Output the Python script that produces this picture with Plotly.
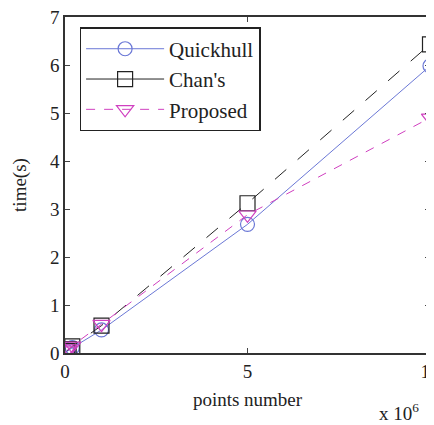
import plotly.graph_objects as go

points = [0.05e6, 0.1e6, 0.2e6, 1e6, 5e6, 10e6]
quickhull = [0.03, 0.06, 0.11, 0.48, 2.68, 5.98]
chans = [0.04, 0.08, 0.14, 0.57, 3.12, 6.43]
proposed = [0.05, 0.09, 0.15, 0.6, 2.88, 4.9]

font = "Liberation Serif"
blue, black, magenta = "#6b78d6", "#222222", "#d040c0"
fig = go.Figure()
fig.add_trace(go.Scatter(x=points, y=quickhull, name="Quickhull", mode="lines+markers",
                         line=dict(color=blue, width=1),
                         marker=dict(symbol="circle-open", size=14, color=blue, line=dict(width=1.2))))
fig.add_trace(go.Scatter(x=points, y=chans, name="Chan's", mode="lines+markers", showlegend=False,
                         line=dict(color=black, width=1, dash="longdash"),
                         marker=dict(symbol="square-open", size=15, color=black, line=dict(width=1.2))))
# legend entry for Chan's (solid sample as in the reference legend)
fig.add_trace(go.Scatter(x=[None], y=[None], name="Chan's", mode="lines+markers",
                         line=dict(color=black, width=1),
                         marker=dict(symbol="square-open", size=15, color=black, line=dict(width=1.2))))
fig.add_trace(go.Scatter(x=points, y=proposed, name="Proposed", mode="lines+markers",
                         line=dict(color=magenta, width=1, dash="dash"),
                         marker=dict(symbol="triangle-down-open", size=15, color=magenta, line=dict(width=1.2))))

# page body adds an 8px margin, so the figure is sized to fill the rest of the window
fig.update_layout(
    width=426, height=417,
    margin=dict(l=57, r=4, t=9, b=72, autoexpand=False),
    paper_bgcolor="white", plot_bgcolor="white",
    font=dict(family=font, size=19, color="#222222"),
    showlegend=True,
    legend=dict(x=0.04, y=0.97, xanchor="left", yanchor="top",
                bordercolor="#222222", borderwidth=1.5, bgcolor="white",
                font=dict(family=font, size=21), tracegroupgap=0, itemwidth=78),
    xaxis=dict(range=[0, 10e6], tickvals=[0, 5e6, 10e6], ticktext=["0", "5", "10"],
               ticks="inside", ticklen=5, showline=True, linecolor="#333333", linewidth=1.5,
               mirror="ticks", showgrid=False, zeroline=False, automargin=False,
               ticklabeloverflow="allow",
               title=dict(text="points number", font=dict(family=font, size=19), standoff=12)),
    yaxis=dict(range=[0, 7], dtick=1, ticks="inside", ticklen=5, showline=True,
               linecolor="#333333", linewidth=1.5, mirror="ticks", showgrid=False, zeroline=False,
               automargin=False, ticklabeloverflow="allow",
               title=dict(text="time(s)", font=dict(family=font, size=19), standoff=18)),
)
fig.add_annotation(text="x 10<sup>6</sup>", xref="paper", yref="paper", x=0.975, y=-0.175,
                   xanchor="right", yanchor="middle", showarrow=False, font=dict(family=font, size=19))
fig.write_html("out.html")
